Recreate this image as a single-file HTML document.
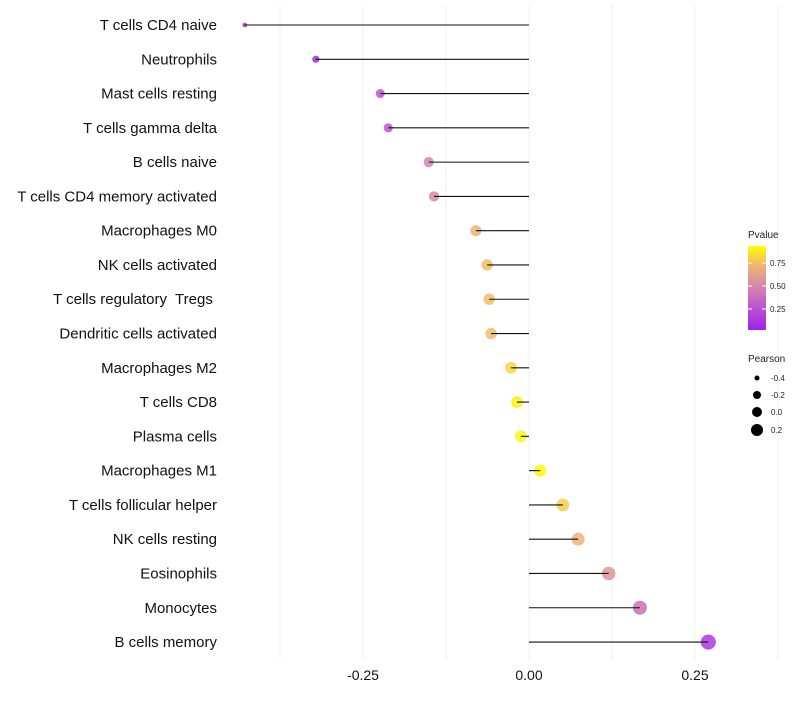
<!DOCTYPE html>
<html><head><meta charset="utf-8"><style>
body{margin:0;background:#fff;font-family:"Liberation Sans",sans-serif}
</style></head><body>
<svg id="c" width="800" height="700">
<defs><linearGradient id="pg" x1="0" y1="1" x2="0" y2="0">
<stop offset="0" stop-color="#a020f0"/><stop offset="0.5" stop-color="#d482b0"/><stop offset="0.78" stop-color="#f0b870"/><stop offset="1" stop-color="#ffff00"/></linearGradient></defs>
</svg>
<script>
const categories=["T cells CD4 naive","Neutrophils","Mast cells resting","T cells gamma delta","B cells naive","T cells CD4 memory activated","Macrophages M0","NK cells activated","T cells regulatory  Tregs ","Dendritic cells activated","Macrophages M2","T cells CD8","Plasma cells","Macrophages M1","T cells follicular helper","NK cells resting","Eosinophils","Monocytes","B cells memory"];
const pearson=[-0.428,-0.321,-0.224,-0.212,-0.151,-0.143,-0.080,-0.063,-0.060,-0.057,-0.027,-0.018,-0.012,0.017,0.051,0.074,0.120,0.167,0.270];
const pvalues=[0.03,0.06,0.28,0.28,0.5,0.52,0.75,0.8,0.8,0.8,0.88,0.95,0.97,0.98,0.85,0.75,0.6,0.4,0.12];
const xTicks=[-0.25,0,0.25];
const xTickLabels=["-0.25","0.00","0.25"];
const ns="http://www.w3.org/2000/svg",svg=document.getElementById('c');
const X=v=>529+v*664, Y=i=>25+i*34.28;
const R=v=>Math.sqrt(Math.max(1,5+(v+0.43)/0.7*52));
function mk(t,a,p){const e=document.createElementNS(ns,t);for(const k in a)e.setAttribute(k,a[k]);(p||svg).appendChild(e);return e;}
function hex(h){return [1,3,5].map(i=>parseInt(h.substr(i,2),16));}
const stops=[[0,"#a020f0"],[0.5,"#d482b0"],[0.78,"#f0b870"],[1,"#ffff00"]];
function col(p){for(let i=1;i<stops.length;i++){if(p<=stops[i][0]){const t=(p-stops[i-1][0])/(stops[i][0]-stops[i-1][0]);const a=hex(stops[i-1][1]),b=hex(stops[i][1]);return "rgb("+a.map((c,j)=>Math.round(c+(b[j]-c)*t)).join(",")+")";}}return "#ffff00";}
for(let v=-0.375;v<=0.38;v+=0.125){const g=mk('line',{x1:X(v),x2:X(v),y1:5,y2:660,stroke:"#f2f2f2","stroke-width":1});

}
xTicks.forEach((t,i)=>{const e=mk('text',{x:X(t),y:680,"text-anchor":"middle","font-size":14,fill:"#111"});e.textContent=xTickLabels[i];

});
categories.forEach((c,i)=>{
const t=mk('text',{x:217,y:Y(i)+5,"text-anchor":"end","font-size":15,fill:"#111","xml:space":"preserve",style:"white-space:pre"});t.textContent=c;


const d=mk('circle',{cx:X(pearson[i]),cy:Y(i),r:R(pearson[i]),fill:col(pvalues[i]),"fill-opacity":0.85});


const l=mk('line',{x1:X(0),x2:X(pearson[i]),y1:Y(i),y2:Y(i),stroke:"#111","stroke-width":1.1});


});
</script>
<svg width="800" height="700" style="position:absolute;left:0;top:0">
<text x="748" y="238" font-size="10" fill="#222" font-family="Liberation Sans">Pvalue</text>
<rect x="748" y="246" width="18" height="84" fill="url(#pg)"/>
<g stroke="#fff" stroke-width="1"><line x1="748" x2="752" y1="263" y2="263"/><line x1="762" x2="766" y1="263" y2="263"/><line x1="748" x2="752" y1="286" y2="286"/><line x1="762" x2="766" y1="286" y2="286"/><line x1="748" x2="752" y1="309" y2="309"/><line x1="762" x2="766" y1="309" y2="309"/></g>
<g font-size="8" fill="#222" font-family="Liberation Sans"><text x="770" y="266">0.75</text><text x="770" y="289">0.50</text><text x="770" y="312">0.25</text></g>
<text x="748" y="362" font-size="10" fill="#222" font-family="Liberation Sans">Pearson</text>
<g fill="#000"><circle cx="757" cy="378" r="2.5"/><circle cx="757" cy="395" r="4"/><circle cx="757" cy="412" r="5"/><circle cx="757" cy="430" r="6"/></g>
<g font-size="8" fill="#222" font-family="Liberation Sans"><text x="771" y="381">-0.4</text><text x="771" y="398">-0.2</text><text x="771" y="415">0.0</text><text x="771" y="433">0.2</text></g>
</svg>
</body></html>
